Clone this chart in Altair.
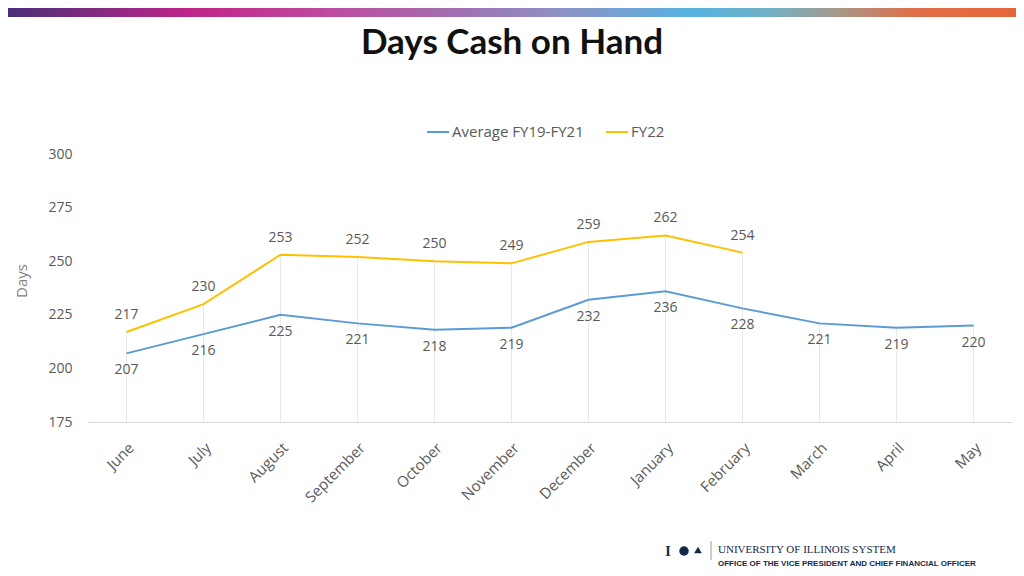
import altair as alt
import pandas as pd

months = ["June", "July", "August", "September", "October", "November",
          "December", "January", "February", "March", "April", "May"]
avg_values = [207, 216, 225, 221, 218, 219, 232, 236, 228, 221, 219, 220]
fy22_values = [217, 230, 253, 252, 250, 249, 259, 262, 254]
series_names = ["Average FY19-FY21", "FY22"]
series_colors = ["#5B9BD5", "#FFC000"]
y_ticks = [175, 200, 225, 250, 275, 300]

rows = []
for i, m in enumerate(months):
    rows.append({"month": m, "series": series_names[0], "value": avg_values[i]})
    if i < len(fy22_values):
        rows.append({"month": m, "series": series_names[1], "value": fy22_values[i]})
df = pd.DataFrame(rows)

drop_rows = []
for i, m in enumerate(months):
    vals = [avg_values[i]] + ([fy22_values[i]] if i < len(fy22_values) else [])
    drop_rows.append({"month": m, "top": max(vals), "base": 175})
drop_df = pd.DataFrame(drop_rows)

FONT = "Open Sans"
GRAY = "#595959"

x_axis = alt.Axis(labelAngle=-45, labelFontSize=15, labelColor=GRAY,
                  labelFont=FONT, ticks=False, domainColor="#D9D9D9",
                  labelPadding=18, grid=False)
y_axis = alt.Axis(values=y_ticks, grid=False, domain=False, ticks=False,
                  labelFontSize=14, labelColor=GRAY, labelFont=FONT,
                  labelPadding=16)
y_scale = alt.Scale(domain=[175, 300], nice=False)

color_enc = alt.Color("series:N",
                      scale=alt.Scale(domain=series_names, range=series_colors),
                      legend=alt.Legend(title=None, orient="none", direction="horizontal",
                                        legendX=338, legendY=-34, symbolType="stroke",
                                        symbolSize=484, symbolStrokeWidth=2,
                                        labelFontSize=15, labelColor=GRAY, labelFont=FONT,
                                        labelOffset=2, columnPadding=18))

drops = alt.Chart(drop_df).mark_rule(color="#E8E8E8", strokeWidth=1).encode(
    x=alt.X("month:N", sort=months, title=None, axis=x_axis),
    y=alt.Y("top:Q", scale=y_scale, title=None, axis=y_axis), y2="base:Q")

lines = alt.Chart(df).mark_line(strokeWidth=2).encode(
    x=alt.X("month:N", sort=months, title=None, axis=x_axis),
    y=alt.Y("value:Q", scale=y_scale, title=None, axis=y_axis),
    color=color_enc, detail="series:N")

lab_avg = alt.Chart(df).transform_filter(
    alt.datum.series == series_names[0]).mark_text(
    dy=17, fontSize=14, font=FONT, color=GRAY).encode(
    x=alt.X("month:N", sort=months), y=alt.Y("value:Q", scale=y_scale), text="value:Q")

lab_fy = alt.Chart(df).transform_filter(
    alt.datum.series == series_names[1]).mark_text(
    dy=-17, fontSize=14, font=FONT, color=GRAY).encode(
    x=alt.X("month:N", sort=months), y=alt.Y("value:Q", scale=y_scale), text="value:Q")

one = alt.Data(values=[{"a": 1}])

gradient = alt.Chart(one).mark_rect(
    color=alt.LinearGradient(
        gradient="linear", x1=0, x2=1, y1=0, y2=0,
        stops=[alt.GradientStop(color="#4A2F78", offset=0),
               alt.GradientStop(color="#C02489", offset=0.18),
               alt.GradientStop(color="#BD4C9F", offset=0.32),
               alt.GradientStop(color="#A071B2", offset=0.45),
               alt.GradientStop(color="#8C93C4", offset=0.55),
               alt.GradientStop(color="#55B2E1", offset=0.68),
               alt.GradientStop(color="#72B0C2", offset=0.76),
               alt.GradientStop(color="#A59A8C", offset=0.82),
               alt.GradientStop(color="#E06E48", offset=0.9),
               alt.GradientStop(color="#E5663A", offset=1)])).encode(
    x=alt.value(-80), x2=alt.value(928), y=alt.value(-146), y2=alt.value(-137))

title = alt.Chart(one).mark_text(
    text="Days Cash on Hand", font="Lato", fontSize=35, fontWeight="bold",
    color="#111111", align="center", baseline="middle").encode(
    x=alt.value(424), y=alt.value(-111))

ytitle = alt.Chart(one).mark_text(
    text="Days", font=FONT, fontSize=15, color="#7F7F7F", angle=270,
    align="center", baseline="middle").encode(
    x=alt.value(-66), y=alt.value(127))

uni = alt.Chart(one).mark_text(
    text="UNIVERSITY OF ILLINOIS SYSTEM", font="Liberation Serif", fontSize=11,
    color="#13294B", align="left", baseline="alphabetic").encode(
    x=alt.value(630), y=alt.value(399))

office = alt.Chart(one).mark_text(
    text="OFFICE OF THE VICE PRESIDENT AND CHIEF FINANCIAL OFFICER",
    font="Liberation Sans", fontSize=8, fontWeight="bold",
    color="#13294B", align="left", baseline="alphabetic").encode(
    x=alt.value(630), y=alt.value(412))

icon_i = alt.Chart(one).mark_text(
    text="I", font="Liberation Serif", fontSize=14, fontWeight="bold",
    color="#13294B", align="center", baseline="alphabetic").encode(
    x=alt.value(580), y=alt.value(402))

icon_c = alt.Chart(one).mark_point(
    shape="circle", filled=True, size=90, color="#13294B", opacity=1).encode(
    x=alt.value(596), y=alt.value(397))

icon_d = alt.Chart(one).mark_point(
    shape="triangle-up", filled=True, size=60, color="#13294B", opacity=1).encode(
    x=alt.value(610), y=alt.value(396))

sep = alt.Chart(one).mark_rule(color="#9A9A9A", strokeWidth=1).encode(
    x=alt.value(623), y=alt.value(387), y2=alt.value(406))

chart = alt.layer(
    drops, lines, lab_avg, lab_fy, gradient, title, ytitle,
    uni, office, icon_i, icon_c, icon_d, sep
).properties(
    width=924, height=268,
    autosize=alt.AutoSizeParams(type="none"),
    padding={"left": 80, "top": 146, "right": 4, "bottom": 146},
).configure(background="white").configure_view(strokeWidth=0)

chart.save("out.html", embed_options={"renderer": "svg", "actions": False})
